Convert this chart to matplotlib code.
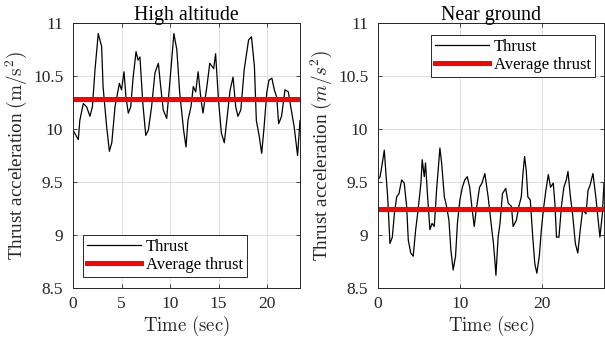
import matplotlib
matplotlib.use("Agg")
import matplotlib.pyplot as plt

plt.rcParams['font.family'] = ['Liberation Serif', 'DejaVu Serif']
plt.rcParams['mathtext.fontset'] = 'cm'

# ---- data: High altitude ----
t_high = [0.0, 0.3, 0.55, 0.7, 1.06, 1.4, 1.75, 2.0, 2.27, 2.6, 2.95, 3.1, 3.47, 3.75, 4.0,
          4.33, 4.78, 5.0, 5.26, 5.46, 5.7, 5.95, 6.2, 6.5, 6.7, 6.9, 7.2, 7.5, 7.77, 8.1,
          8.45, 8.8, 9.04, 9.3, 9.66, 10.0, 10.4, 10.7, 11.0, 11.4, 11.65, 11.85, 12.16, 12.4,
          12.65, 12.9, 13.2, 13.4, 13.8, 14.1, 14.5, 14.7, 15.0, 15.3, 15.6, 15.85, 16.2,
          16.5, 16.77, 17.0, 17.3, 17.65, 18.1, 18.4, 18.7, 18.9, 19.2, 19.45, 19.7, 19.97,
          20.2, 20.5, 20.75, 21.0, 21.2, 21.5, 21.85, 22.2, 22.5, 22.8, 23.15, 23.4]
a_high = [9.99, 9.94, 9.90, 10.08, 10.24, 10.21, 10.12, 10.21, 10.56, 10.90, 10.78, 10.40,
          10.02, 9.79, 9.87, 10.21, 10.43, 10.37, 10.54, 10.30, 10.15, 10.21, 10.49, 10.73,
          10.65, 10.68, 10.24, 9.94, 9.99, 10.21, 10.53, 10.62, 10.40, 10.18, 10.10, 10.46,
          10.90, 10.75, 10.34, 9.99, 9.83, 10.08, 10.21, 10.40, 10.35, 10.54, 10.27, 10.15,
          10.40, 10.62, 10.57, 10.71, 10.27, 9.96, 9.87, 10.08, 10.37, 10.49, 10.21, 10.12,
          10.18, 10.56, 10.84, 10.87, 10.59, 10.08, 9.93, 9.77, 10.02, 10.34, 10.46, 10.48,
          10.37, 10.30, 10.05, 10.12, 10.37, 10.35, 10.18, 10.02, 9.75, 10.08]
avg_high = 10.28

# ---- data: Near ground ----
t_ground = [0.0, 0.25, 0.45, 0.77, 0.94, 1.18, 1.46, 1.75, 2.0, 2.28, 2.56, 2.89, 3.2, 3.5,
            3.7, 4.0, 4.3, 4.6, 4.9, 5.24, 5.4, 5.65, 5.8, 6.06, 6.34, 6.6, 6.87, 7.15, 7.56,
            7.77, 8.1, 8.38, 8.66, 8.9, 9.18, 9.47, 9.7, 10.0, 10.3, 10.6, 10.9, 11.2, 11.5,
            11.75, 12.0, 12.4, 12.7, 13.05, 13.45, 13.9, 14.1, 14.3, 14.4, 14.67, 14.9, 15.2,
            15.6, 15.9, 16.3, 16.5, 16.9, 17.2, 17.5, 17.7, 17.9, 18.1, 18.3, 18.6, 18.9,
            19.15, 19.4, 19.7, 19.95, 20.2, 20.5, 20.8, 21.07, 21.4, 21.6, 21.8, 22.1, 22.4,
            22.7, 23.0, 23.2, 23.5, 23.8, 24.1, 24.4, 24.7, 25.0, 25.4, 25.65, 25.9, 26.25,
            26.6, 26.85, 27.1, 27.4, 27.6]
a_ground = [9.52, 9.55, 9.64, 9.80, 9.61, 9.36, 8.92, 8.98, 9.20, 9.36, 9.39, 9.52, 9.49,
            9.27, 8.95, 8.83, 8.80, 9.05, 9.24, 9.49, 9.71, 9.55, 9.68, 9.36, 9.05, 9.11, 9.08,
            9.42, 9.82, 9.68, 9.36, 9.27, 9.14, 8.86, 8.67, 8.80, 9.11, 9.33, 9.45, 9.52, 9.55,
            9.45, 9.24, 9.08, 9.24, 9.45, 9.49, 9.58, 9.36, 9.05, 8.92, 8.73, 8.62, 8.98, 9.11,
            9.39, 9.44, 9.30, 9.27, 9.08, 9.14, 9.27, 9.36, 9.58, 9.74, 9.61, 9.36, 9.33, 8.98,
            8.73, 8.64, 8.80, 9.05, 9.24, 9.42, 9.57, 9.45, 9.49, 9.30, 8.98, 8.98, 9.27, 9.45,
            9.52, 9.60, 9.36, 9.17, 8.92, 8.83, 9.05, 9.24, 9.20, 9.42, 9.47, 9.58, 9.36, 9.17,
            8.98, 9.20, 9.49]
avg_ground = 9.25

titles = ['High altitude', 'Near ground']
ylabels = [r'Thrust acceleration $\mathrm{(m/s^2)}$', r'Thrust acceleration $(m/s^2)$']
xlabel = r'$\mathrm{Time\ (sec)}$'
legend_labels = ['Thrust', 'Average thrust']
yticks = [8.5, 9, 9.5, 10, 10.5, 11]
ytick_labels = ['8.5', '9', '9.5', '10', '10.5', '11']
xticks_high = [0, 5, 10, 15, 20]
xticks_ground = [0, 10, 20]

axcol = '#262626'
fig = plt.figure(figsize=(6.05, 3.47), dpi=100)
ax1 = fig.add_axes([73/605, 59/347, 227/605, 265/347])
ax2 = fig.add_axes([378/605, 59/347, 226/605, 265/347])

specs = [
    (ax1, t_high, a_high, avg_high, 23.4, xticks_high, 'lower left', (0.045, 0.04)),
    (ax2, t_ground, a_ground, avg_ground, 27.6, xticks_ground, 'upper right', (0.96, 0.955)),
]
for i, (ax, t, a, avg, xmax, xt, loc, anchor) in enumerate(specs):
    l1, = ax.plot(t, a, color='black', lw=0.9, label=legend_labels[0])
    l2 = ax.axhline(avg, color='#ff0000', lw=3.6, label=legend_labels[1])
    ax.set_xlim(0, xmax)
    ax.set_ylim(8.5, 11)
    ax.set_yticks(yticks)
    ax.set_yticklabels(ytick_labels)
    ax.set_xticks(xt)
    ax.grid(True, color='#dedede', lw=0.7)
    ax.set_axisbelow(True)
    ax.tick_params(direction='in', top=True, right=True, length=3, width=0.6,
                   colors=axcol, labelsize=12.5, labelcolor=axcol)
    ax.tick_params(axis='y', pad=7)
    ax.tick_params(axis='x', pad=6)
    for s in ax.spines.values():
        s.set_color(axcol)
        s.set_linewidth(0.7)
    ax.set_title(titles[i], fontsize=14.3, color='black', pad=2)
    ax.set_xlabel(xlabel, fontsize=13.5, color=axcol, labelpad=1)
    ax.set_ylabel(ylabels[i], fontsize=13.8, color=axcol, labelpad=3)
    leg = ax.legend(handles=[l1, l2], loc=loc, bbox_to_anchor=anchor, fontsize=12,
                    frameon=True, fancybox=False, edgecolor=axcol, framealpha=1,
                    handlelength=3.2, handletextpad=0.3, borderpad=0.25,
                    labelspacing=0.12, borderaxespad=0)
    leg.get_frame().set_linewidth(0.7)

fig.savefig('out.png', dpi=100)
